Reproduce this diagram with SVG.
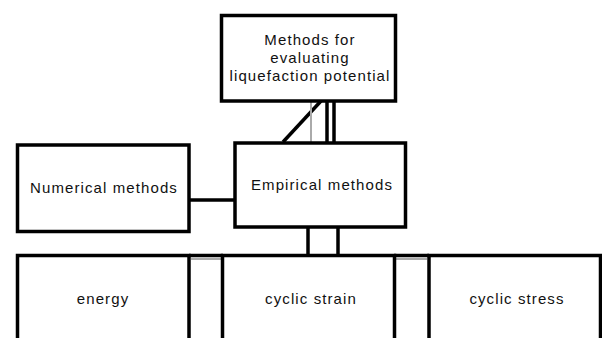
<svg xmlns="http://www.w3.org/2000/svg" width="602" height="338" viewBox="0 0 602 338">
<style>
.box{fill:#fff;stroke:#000;stroke-width:3.5}
.t{font-family:"Liberation Sans",Arial,sans-serif;font-size:15px;letter-spacing:1.1px;fill:#111;text-anchor:middle}
.c{stroke:#000;stroke-width:3.5;fill:none}
.g{stroke:#aaa;stroke-width:2;fill:none}
</style>
<rect width="602" height="338" fill="#fff"/>
<g id="connectors">
<line class="c" x1="321" y1="101" x2="283" y2="142"/>
<line class="g" x1="311" y1="101" x2="311" y2="143"/>
<line class="c" x1="327" y1="101" x2="327" y2="143"/>
<line class="c" x1="334" y1="101" x2="334" y2="143"/>
<line class="c" x1="189" y1="200" x2="235" y2="200"/>
<line class="c" x1="308" y1="227" x2="308" y2="255"/>
<line class="c" x1="338" y1="227" x2="338" y2="255"/>
<line class="g" x1="191" y1="259" x2="221" y2="259"/>
<line class="g" x1="396" y1="259" x2="427" y2="259"/>
<line class="c" x1="189" y1="255.5" x2="223" y2="255.5"/>
<line class="c" x1="394" y1="255.5" x2="429" y2="255.5"/>
</g>
<g id="top">
<rect class="box" x="221.5" y="15.5" width="174" height="85.5"/>
<text class="t" x="310" y="45">Methods for</text>
<text class="t" x="310" y="63">evaluating</text>
<text class="t" x="310" y="81">liquefaction potential</text>
</g>
<g id="numerical">
<rect class="box" x="17.5" y="145" width="171.5" height="86.5"/>
<text class="t" x="104" y="193">Numerical methods</text>
</g>
<g id="empirical">
<rect class="box" x="235" y="143" width="170.5" height="84"/>
<text class="t" x="322" y="190">Empirical methods</text>
</g>
<g id="energy">
<rect class="box" x="17.5" y="255.5" width="171.5" height="100"/>
<text class="t" x="103" y="304">energy</text>
</g>
<g id="strain">
<rect class="box" x="222.5" y="255.5" width="172" height="100"/>
<text class="t" x="311" y="304">cyclic strain</text>
</g>
<g id="stress">
<rect class="box" x="429" y="255.5" width="171.5" height="100"/>
<text class="t" x="517" y="304">cyclic stress</text>
</g>
</svg>
